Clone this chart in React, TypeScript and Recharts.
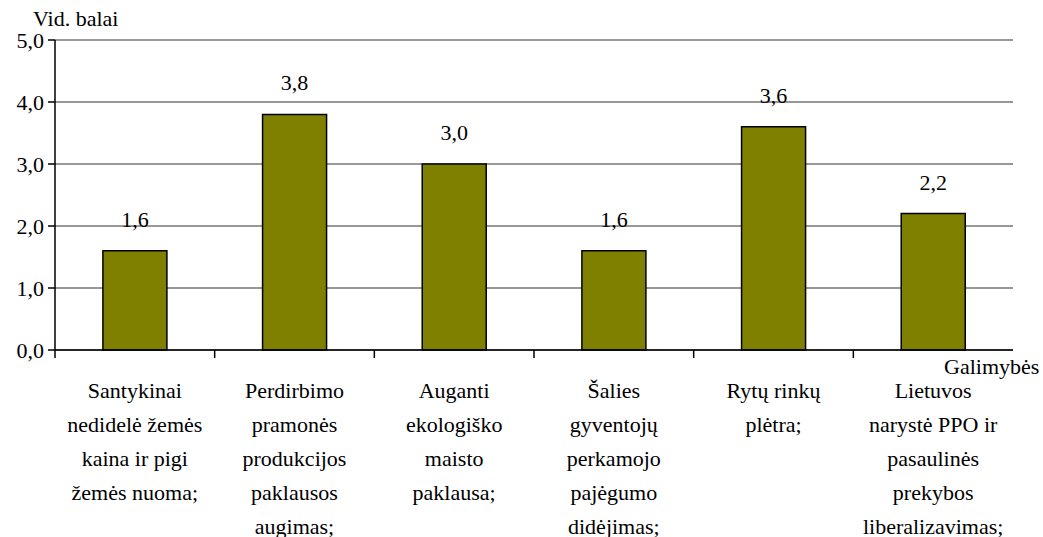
import { Bar, BarChart, CartesianGrid, LabelList, ReferenceLine, XAxis, YAxis } from "recharts";

const FONT = "Liberation Serif, Tinos, DejaVu Serif, Times New Roman, serif";
const BAR_COLOR = "#808000";

const categories = [
  ["Santykinai", "nedidelė žemės", "kaina ir pigi", "žemės nuoma;"],
  ["Perdirbimo", "pramonės", "produkcijos", "paklausos", "augimas;"],
  ["Auganti", "ekologiško", "maisto", "paklausa;"],
  ["Šalies", "gyventojų", "perkamojo", "pajėgumo", "didėjimas;"],
  ["Rytų rinkų", "plėtra;"],
  ["Lietuvos", "narystė PPO ir", "pasaulinės", "prekybos", "liberalizavimas;"],
];
const scores = [1.6, 3.8, 3.0, 1.6, 3.6, 2.2];
const yTicks = [0, 1, 2, 3, 4, 5];

const data = categories.map((lines, i) => ({ name: lines.join(" "), idx: i, value: scores[i] }));

const W = 1043;
const H = 537;
const LEFT = 55;
const RIGHT = 30;
const BAND = (W - LEFT - RIGHT) / categories.length;

const fmt = (v: number) => v.toFixed(1).replace(".", ",");

// category labels are multi-line, and ticks sit on the category boundaries
function CatTick(props: any) {
  const { x, y, index } = props;
  const lines = categories[index] ?? [];
  const left = x - BAND / 2;
  return (
    <g>
      <line x1={left} x2={left} y1={y - 8} y2={y} stroke="#000" strokeWidth={1.5} />
      <text x={x} y={y + 40} textAnchor="middle" style={{ fontFamily: FONT }} fontSize={22} fill="#000">
        {lines.map((l, k) => (
          <tspan key={k} x={x} dy={k === 0 ? 0 : 34}>
            {l}
          </tspan>
        ))}
      </text>
    </g>
  );
}

export default function App() {
  return (
    <div style={{ position: "absolute", left: 0, top: 0, width: W, height: H, background: "#fff", fontFamily: FONT }}>
      <BarChart width={W} height={H} data={data} margin={{ top: 40, right: RIGHT, left: 0, bottom: 0 }} barCategoryGap="30%">
        <CartesianGrid horizontal vertical={false} stroke="#333" strokeWidth={1.2} />
        <XAxis
          dataKey="name"
          interval={0}
          tickSize={8}
          tickMargin={0}
          tickLine={false}
          axisLine={{ stroke: "#000", strokeWidth: 1.5 }}
          tick={<CatTick />}
          height={187}
        />
        <YAxis
          domain={[0, 5]}
          ticks={yTicks}
          width={LEFT}
          tickSize={7}
          tickMargin={4}
          tickFormatter={fmt}
          axisLine={{ stroke: "#000", strokeWidth: 1.5 }}
          tickLine={{ stroke: "#000", strokeWidth: 1.5 }}
          tick={{ style: { fontFamily: FONT }, fontSize: 22, fill: "#000" }}
        />
        <YAxis
          yAxisId="r"
          orientation="right"
          domain={[0, 5]}
          width={0}
          tick={false}
          tickLine={false}
          axisLine={{ stroke: "#999", strokeWidth: 2 }}
        />
        <ReferenceLine y={5} stroke="#999" strokeWidth={2} />
        <Bar dataKey="value" fill={BAR_COLOR} stroke="#000" strokeWidth={1.5} isAnimationActive={false}>
          <LabelList
            dataKey="value"
            position="top"
            offset={24}
            formatter={(v: any) => fmt(Number(v))}
            style={{ fontFamily: FONT, fontSize: 22, fill: "#000" }}
          />
        </Bar>
      </BarChart>
      <div style={{ position: "absolute", left: 33, top: 6, fontSize: 22, color: "#000", whiteSpace: "nowrap" }}>
        Vid. balai
      </div>
      <div style={{ position: "absolute", left: 944, top: 354, fontSize: 22, color: "#000", whiteSpace: "nowrap" }}>
        Galimybės
      </div>
    </div>
  );
}
